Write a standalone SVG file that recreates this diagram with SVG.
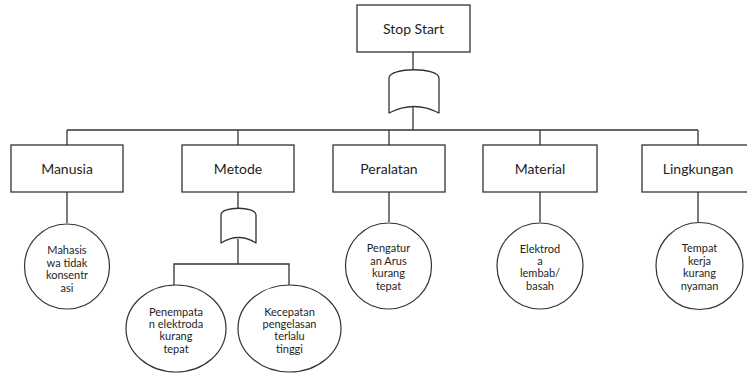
<svg xmlns="http://www.w3.org/2000/svg" width="747" height="373" viewBox="0 0 747 373">
  <style>
    .box { fill: #ffffff; stroke: #333333; stroke-width: 1.3; }
    .gate { fill: #ffffff; stroke: #333333; stroke-width: 1.3; stroke-linejoin: round; }
    .wire { fill: none; stroke: #333333; stroke-width: 1.3; }
    .cause { fill: #ffffff; stroke: #333333; stroke-width: 1.2; }
    .lbl { font-family: Lato, "Open Sans", "Liberation Sans", sans-serif; font-size: 14px; fill: #1e1e1e; text-anchor: middle; }
    .sub { font-family: Lato, "Open Sans", "Liberation Sans", sans-serif; font-size: 11px; fill: #1e1e1e; text-anchor: middle; }
  </style>
  <rect width="747" height="373" fill="#ffffff"/>

  <!-- connectors -->
  <g id="connectors">
    <line class="wire" x1="413" y1="52" x2="413" y2="70"/>
    <line class="wire" x1="413" y1="107" x2="413" y2="130"/>
    <line class="wire" x1="67" y1="130" x2="698" y2="130"/>
    <line class="wire" x1="67" y1="130" x2="67" y2="145"/>
    <line class="wire" x1="238" y1="130" x2="238" y2="145"/>
    <line class="wire" x1="389" y1="130" x2="389" y2="145"/>
    <line class="wire" x1="540" y1="130" x2="540" y2="145"/>
    <line class="wire" x1="698" y1="130" x2="698" y2="145"/>
    <line class="wire" x1="67" y1="192" x2="67" y2="223"/>
    <line class="wire" x1="389" y1="192" x2="389" y2="222"/>
    <line class="wire" x1="540" y1="192" x2="540" y2="222"/>
    <line class="wire" x1="698" y1="192" x2="698" y2="222"/>
    <line class="wire" x1="238" y1="192" x2="238" y2="208"/>
    <line class="wire" x1="238" y1="239" x2="238" y2="264"/>
    <polyline class="wire" points="174,285 174,264 289,264 289,286"/>
  </g>

  <!-- top event -->
  <g id="top-event">
    <rect class="box" x="357" y="5" width="113" height="47"/>
    <text class="lbl" x="413.5" y="34">Stop Start</text>
  </g>

  <!-- OR gate under the top event -->
  <g id="gate-top">
    <path class="gate" d="M389,113 L389,78 C389,67 439,67 439,78 L439,113 Q414,100 389,113 Z"/>
  </g>

  <!-- category boxes -->
  <g id="manusia">
    <rect class="box" x="11" y="145" width="112" height="47"/>
    <text class="lbl" x="67" y="174">Manusia</text>
  </g>
  <g id="metode">
    <rect class="box" x="182" y="145" width="112" height="47"/>
    <text class="lbl" x="238" y="174">Metode</text>
  </g>
  <g id="peralatan">
    <rect class="box" x="333" y="145" width="112" height="47"/>
    <text class="lbl" x="389" y="174">Peralatan</text>
  </g>
  <g id="material">
    <rect class="box" x="483" y="145" width="114" height="47"/>
    <text class="lbl" x="540" y="174">Material</text>
  </g>
  <g id="lingkungan">
    <rect class="box" x="642" y="145" width="112" height="47"/>
    <text class="lbl" x="698" y="174">Lingkungan</text>
  </g>

  <!-- OR gate under Metode -->
  <g id="gate-metode">
    <path class="gate" d="M221,243 L221,215 C221,206 256,206 256,215 L256,243 Q238.5,232 221,243 Z"/>
  </g>

  <!-- basic causes -->
  <g id="cause-mahasiswa">
    <circle class="cause" cx="67" cy="266.5" r="42.5"/>
    <text class="sub" x="67"><tspan x="67" y="254">Mahasis</tspan><tspan x="67" y="266.5">wa tidak</tspan><tspan x="67" y="279">konsentr</tspan><tspan x="67" y="291.5">asi</tspan></text>
  </g>
  <g id="cause-penempatan">
    <ellipse class="cause" cx="176" cy="328.5" rx="50" ry="43.5"/>
    <text class="sub" x="176"><tspan x="176" y="315.5">Penempata</tspan><tspan x="176" y="328">n elektroda</tspan><tspan x="176" y="340">kurang</tspan><tspan x="176" y="352.5">tepat</tspan></text>
  </g>
  <g id="cause-kecepatan">
    <ellipse class="cause" cx="289.5" cy="328.5" rx="51.5" ry="43.5"/>
    <text class="sub" x="289.5"><tspan x="289.5" y="315.5">Kecepatan</tspan><tspan x="289.5" y="328">pengelasan</tspan><tspan x="289.5" y="340">terlalu</tspan><tspan x="289.5" y="352.5">tinggi</tspan></text>
  </g>
  <g id="cause-pengatur">
    <circle class="cause" cx="388.5" cy="266" r="43"/>
    <text class="sub" x="388.5"><tspan x="388.5" y="252">Pengatur</tspan><tspan x="388.5" y="264.5">an Arus</tspan><tspan x="388.5" y="277">kurang</tspan><tspan x="388.5" y="289.5">tepat</tspan></text>
  </g>
  <g id="cause-elektroda">
    <circle class="cause" cx="540" cy="266" r="43"/>
    <text class="sub" x="540"><tspan x="540" y="252.5">Elektrod</tspan><tspan x="540" y="264.5">a</tspan><tspan x="540" y="277">lembab/</tspan><tspan x="540" y="289.5">basah</tspan></text>
  </g>
  <g id="cause-tempat">
    <circle class="cause" cx="699.5" cy="266" r="43.5"/>
    <text class="sub" x="699.5"><tspan x="699.5" y="252">Tempat</tspan><tspan x="699.5" y="264.5">kerja</tspan><tspan x="699.5" y="277">kurang</tspan><tspan x="699.5" y="289.5">nyaman</tspan></text>
  </g>
</svg>
